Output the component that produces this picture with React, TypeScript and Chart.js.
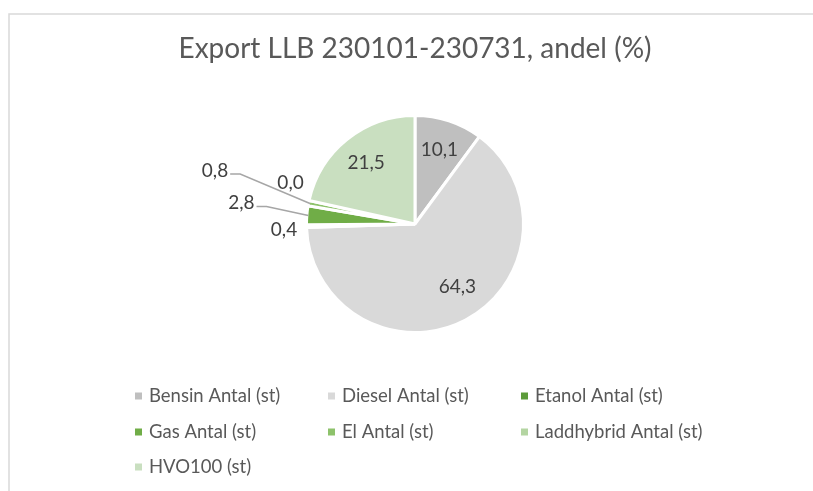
import React, { useEffect, useRef } from "react";
import { Chart, registerables } from "chart.js";

Chart.register(...registerables);

const TITLE = "Export LLB 230101-230731, andel (%)";
const categories = [
  "Bensin Antal (st)",
  "Diesel Antal (st)",
  "Etanol Antal (st)",
  "Gas Antal (st)",
  "El Antal (st)",
  "Laddhybrid Antal (st)",
  "HVO100 (st)",
];
const shares = [10.1, 64.3, 0.4, 2.8, 0.8, 0.0, 21.5];
const sliceColors = ["#BFBFBF", "#D9D9D9", "#5C9B3A", "#70AD47", "#8DC26B", "#A9D08E", "#C9DFC0"];
const legendColors = ["#BFBFBF", "#D9D9D9", "#5C9B3A", "#70AD47", "#8DC26B", "#B4D5A2", "#C9DFC0"];

// label placement style (inside radius fraction, or offset from slice edge)
const labelPlacement: any[] = [
  { inside: 0.73, dx: 0, dy: 0 },
  { inside: 0.73, dx: 6, dy: -6 },
  { dx: -24, dy: 4 },
  { dx: -67, dy: -12.5, leader: true },
  { dx: -95, dy: -33, leader: true },
  { dx: -20, dy: -18 },
  { inside: 0.73, dx: 0, dy: 0 },
];

const FONT = "Lato, 'Open Sans', sans-serif";
const BORDER_W = 3;

const fmt = (v: number) => v.toFixed(1).replace(".", ",");

const decorPlugin = {
  id: "decor",
  beforeDraw(chart: any) {
    const ctx = chart.ctx;
    ctx.save();
    ctx.fillStyle = "#FFFFFF";
    ctx.fillRect(0, 0, chart.width, chart.height);
    ctx.strokeStyle = "#D9D9D9";
    ctx.lineWidth = 1.5;
    ctx.strokeRect(9, 14, chart.width + 20, chart.height + 20);
    ctx.restore();
  },
  afterDatasetsDraw(chart: any) {
    const ctx = chart.ctx;
    const meta = chart.getDatasetMeta(0);
    ctx.save();
    // title
    const cx = (chart.chartArea.left + chart.chartArea.right) / 2;
    ctx.fillStyle = "#595959";
    ctx.font = `28px ${FONT}`;
    ctx.textAlign = "center";
    ctx.textBaseline = "middle";
    ctx.fillText(TITLE, cx, 49);

    // data labels
    ctx.font = `19px ${FONT}`;
    meta.data.forEach((arc: any, i: number) => {
      const p = arc.getProps(["x", "y", "startAngle", "endAngle", "outerRadius"], true);
      const mid = (p.startAngle + p.endAngle) / 2;
      const rVis = p.outerRadius - BORDER_W / 2;
      const pl = labelPlacement[i];
      const text = fmt(shares[i]);
      let lx: number, ly: number;
      if (pl.inside) {
        lx = p.x + Math.cos(mid) * rVis * pl.inside + pl.dx;
        ly = p.y + Math.sin(mid) * rVis * pl.inside + pl.dy;
      } else {
        const ex = p.x + Math.cos(mid) * rVis;
        const ey = p.y + Math.sin(mid) * rVis;
        lx = ex + pl.dx;
        ly = ey + pl.dy;
        if (pl.leader) {
          const w = ctx.measureText(text).width;
          const sx = lx + w / 2 + 2;
          const sy = ly + 3.5;
          ctx.strokeStyle = "#A6A6A6";
          ctx.lineWidth = 1.5;
          ctx.beginPath();
          ctx.moveTo(sx, sy);
          ctx.lineTo(sx + 10, sy);
          ctx.lineTo(ex, ey);
          ctx.stroke();
        }
      }
      ctx.fillStyle = "#404040";
      ctx.textAlign = "center";
      ctx.textBaseline = "middle";
      ctx.fillText(text, lx, ly);
    });

    // legend (3 columns)
    const colX = [135, 328, 521];
    const rowY = [396, 432, 467];
    ctx.font = `18.5px ${FONT}`;
    categories.forEach((name, i) => {
      const col = i % 3;
      const row = Math.floor(i / 3);
      const x = colX[col];
      const y = rowY[row];
      ctx.fillStyle = legendColors[i];
      ctx.fillRect(x, y - 3.5, 7, 7);
      ctx.fillStyle = "#595959";
      ctx.textAlign = "left";
      ctx.textBaseline = "middle";
      ctx.fillText(name, x + 14, y);
    });
    ctx.restore();
  },
};

export default function App() {
  const ref = useRef<HTMLCanvasElement | null>(null);
  useEffect(() => {
    if (!ref.current) return;
    const chart = new Chart(ref.current, {
      type: "pie",
      data: {
        labels: categories,
        datasets: [
          {
            data: shares,
            backgroundColor: sliceColors,
            borderColor: "#FFFFFF",
            borderWidth: BORDER_W,
            hoverOffset: 0,
          },
        ],
      },
      options: {
        responsive: false,
        animation: false,
        events: [],
        radius: 108.5,
        layout: { padding: { left: 300, right: 283, top: 100, bottom: 143 } },
        plugins: {
          legend: { display: false },
          title: { display: false },
          tooltip: { enabled: false },
        },
      } as any,
      plugins: [decorPlugin],
    });
    return () => chart.destroy();
  }, []);
  return (
    <div style={{ position: "fixed", left: 0, top: 0, width: 813, height: 491, background: "#fff" }}>
      <canvas ref={ref} width={813} height={491} style={{ display: "block" }} />
    </div>
  );
}
